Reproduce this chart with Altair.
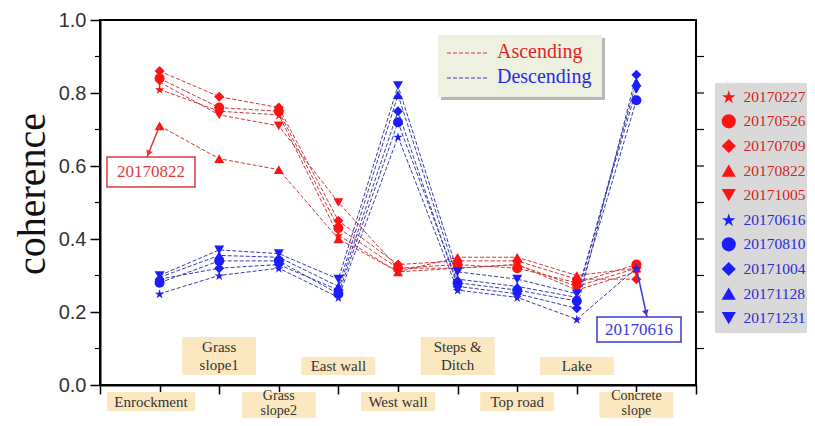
import altair as alt
import pandas as pd

# ---------------- data ----------------
categories = ["Enrockment", "Grass slope1", "Grass slope2", "East wall", "West wall",
              "Steps & Ditch", "Top road", "Lake", "Concrete slope"]
category_labels = ["Enrockment", "Grass\nslope1", "Grass\nslope2", "East wall", "West wall",
                   "Steps &\nDitch", "Top road", "Lake", "Concrete\nslope"]

asc_dates = ["20170227", "20170526", "20170709", "20170822", "20171005"]
desc_dates = ["20170616", "20170810", "20171004", "20171128", "20171231"]

asc_20170227 = [0.81, 0.75, 0.74, 0.41, 0.31, 0.32, 0.33, 0.27, 0.32]
asc_20170526 = [0.84, 0.76, 0.75, 0.43, 0.32, 0.33, 0.32, 0.28, 0.33]
asc_20170709 = [0.86, 0.79, 0.76, 0.45, 0.33, 0.34, 0.34, 0.29, 0.29]
asc_20170822 = [0.71, 0.62, 0.59, 0.40, 0.31, 0.35, 0.35, 0.30, 0.32]
asc_20171005 = [0.83, 0.74, 0.71, 0.50, 0.32, 0.32, 0.33, 0.26, 0.31]

desc_20170616 = [0.25, 0.30, 0.32, 0.24, 0.68, 0.26, 0.24, 0.18, 0.32]
desc_20170810 = [0.28, 0.34, 0.34, 0.25, 0.72, 0.28, 0.26, 0.23, 0.78]
desc_20171004 = [0.29, 0.32, 0.33, 0.26, 0.75, 0.27, 0.25, 0.21, 0.85]
desc_20171128 = [0.295, 0.355, 0.35, 0.27, 0.795, 0.29, 0.27, 0.24, 0.83]
desc_20171231 = [0.30, 0.37, 0.36, 0.29, 0.82, 0.31, 0.29, 0.25, 0.81]

y_ticks = [0.0, 0.2, 0.4, 0.6, 0.8, 1.0]
y_minor = [0.1, 0.3, 0.5, 0.7, 0.9]
y_right = [0.1, 0.2, 0.3, 0.4, 0.5, 0.6, 0.7, 0.8, 0.9]
y_title = "coherence"

series_values = {
    "20170227": asc_20170227, "20170526": asc_20170526, "20170709": asc_20170709,
    "20170822": asc_20170822, "20171005": asc_20171005,
    "20170616": desc_20170616, "20170810": desc_20170810, "20171004": desc_20171004,
    "20171128": desc_20171128, "20171231": desc_20171231,
}

rows = []
for s, vals in series_values.items():
    grp = "Ascending" if s in asc_dates else "Descending"
    for i, v in enumerate(vals):
        rows.append({"series": s, "group": grp, "x": i + 1, "cat": categories[i], "v": v})
df = pd.DataFrame(rows)

# ---------------- layout ----------------
W, H = 596, 365
X0, Y0 = 100, 20
def dx(px):
    return (px - X0) / (W / 10.0)
def dv(py):
    return (Y0 + H - py) / H

RED_PT, BLUE_PT = "#ff1212", "#1c1cff"
RED_LN, BLUE_LN = "#c83a3a", "#3a3aae"
RED_TX, BLUE_TX = "#d82222", "#2c2cd2"
BEIGE = "#fbe7c0"
SERIF = "Liberation Serif"

star = ("M0,-0.905L0.2245,-0.214L0.9511,-0.214L0.3633,0.213L0.5878,0.904L0,0.477"
        "L-0.5878,0.904L-0.3633,0.213L-0.9511,-0.214L-0.2245,-0.214Z")
shapes = [star, "circle", "diamond", "triangle-up", "triangle-down"] * 2
order = asc_dates + desc_dates
colors = [RED_PT] * 5 + [BLUE_PT] * 5

xscale = alt.Scale(domain=[0, 10], nice=False, zero=False)
yscale = alt.Scale(domain=[0, 1], nice=False, zero=False)

x_main = alt.X("x:Q", scale=xscale, title=None,
               axis=alt.Axis(values=list(range(11)), labels=False, tickSize=9, tickWidth=1.5,
                             tickColor="black", domainColor="black", domainWidth=2, grid=False))
y_main = alt.Y("v:Q", scale=yscale, title=None,
               axis=alt.Axis(values=y_ticks, format=".1f", tickSize=10, tickWidth=1.5,
                             tickColor="black", domainColor="black", domainWidth=2, grid=False,
                             labelFont="Liberation Sans", labelFontSize=20, labelColor="#333",
                             labelPadding=4))

def xq(f):
    return alt.X(f, scale=xscale, title=None)
def yq(f):
    return alt.Y(f, scale=yscale, title=None)

one = pd.DataFrame({"k": [0]})

# y-axis title (rotated text placed left of the axis)
title_layer = alt.Chart(pd.DataFrame({"t": [y_title]})).mark_text(
    font=SERIF, fontSize=40, angle=270, align="center", baseline="alphabetic",
    color="#111").encode(x=alt.value(-55), y=alt.value(174), text="t:N")

# category label boxes
lab_rows = []
for i, lab in enumerate(category_labels):
    two = "\n" in lab
    cx, hw = i + 1, 0.62
    if i == 0:
        cx, hw = dx(151), 0.74
    if i % 2 == 1:
        top = dv(337) if two else dv(357)
        bot = dv(375)
        ty = dv(347) if two else dv(366)
        kind = "up2" if two else "one"
    else:
        top = dv(392)
        bot = dv(430) if two else dv(411)
        ty = dv(396) if two else dv(401.5)
        kind = "low2" if two else "one"
    lab_rows.append({"lab": lab, "x1": cx - hw, "x2": cx + hw, "y1": top, "y2": bot,
                     "tx": cx, "ty": ty, "kind": kind})
labdf = pd.DataFrame(lab_rows)

lab_boxes = alt.Chart(labdf).mark_rect(fill=BEIGE).encode(
    x=xq("x1:Q"), x2="x2:Q", y=yq("y1:Q"), y2="y2:Q")

def lab_text(kind, fs, lh):
    return alt.Chart(labdf[labdf.kind == kind]).mark_text(
        font=SERIF, fontSize=fs, lineBreak="\n", lineHeight=lh,
        baseline="middle", align="center", color="#333").encode(
        x=xq("tx:Q"), y=yq("ty:Q"), text="lab:N")

# lines
lines_asc = alt.Chart(df[df.group == "Ascending"]).mark_line(
    color=RED_LN, strokeDash=[4, 2], strokeWidth=1).encode(
    x=x_main, y=y_main, detail="series:N", order="x:Q")
lines_desc = alt.Chart(df[df.group == "Descending"]).mark_line(
    color=BLUE_LN, strokeDash=[4, 2], strokeWidth=1).encode(
    x=xq("x:Q"), y=yq("v:Q"), detail="series:N", order="x:Q")

label_color_expr = ("indexof([" + ",".join("'%s'" % d for d in asc_dates) +
                    "], datum.value) >= 0 ? '%s' : '%s'" % (RED_TX, BLUE_TX))
leg = alt.Legend(title=None, orient="none", legendX=615, legendY=63, fillColor="#d9d9d9",
                 padding=6, rowPadding=7.6, symbolSize=200, symbolStrokeWidth=0,
                 labelFont=SERIF, labelFontSize=15.5, labelOffset=7,
                 labelColor={"expr": label_color_expr})
points = alt.Chart(df).mark_point(filled=True, opacity=1, size=100).encode(
    x=xq("x:Q"), y=yq("v:Q"),
    color=alt.Color("series:N", scale=alt.Scale(domain=order, range=colors), legend=leg),
    shape=alt.Shape("series:N", scale=alt.Scale(domain=order, range=shapes), legend=leg))

# extra ticks (minor left, right side)
minor_left = alt.Chart(pd.DataFrame({"t": y_minor})).mark_rule(color="black", strokeWidth=1.2).encode(
    y=yq("t:Q"), x=alt.value(-5), x2=alt.value(0))
right_ticks = alt.Chart(pd.DataFrame({"t": y_right})).mark_rule(color="black", strokeWidth=1.2).encode(
    y=yq("t:Q"), x=alt.value(W), x2=alt.value(W + 8))

# legend shadow
leg_shadow = alt.Chart(one).mark_rect(fill="#a8a8a8", opacity=0.8).encode(
    x=alt.value(618), x2=alt.value(720), y=alt.value(66), y2=alt.value(304))

# Ascending / Descending box
box_df = pd.DataFrame({"x1": [dx(438)], "x2": [dx(602)], "y1": [dv(35)], "y2": [dv(97)],
                       "sx1": [dx(441)], "sx2": [dx(605)], "sy1": [dv(38)], "sy2": [dv(100)]})
box_shadow = alt.Chart(box_df).mark_rect(fill="#b8b8b8").encode(
    x=xq("sx1:Q"), x2="sx2:Q", y=yq("sy1:Q"), y2="sy2:Q")
box = alt.Chart(box_df).mark_rect(fill="#eef0e0").encode(
    x=xq("x1:Q"), x2="x2:Q", y=yq("y1:Q"), y2="y2:Q")
key_df = pd.DataFrame({"name": ["Ascending", "Descending"],
                       "lx1": [dx(447), dx(447)], "lx2": [dx(488), dx(488)],
                       "ly": [dv(53), dv(78)], "tx": [dx(497), dx(497)], "ty": [dv(52), dv(77)]})
key_red = alt.Chart(key_df.iloc[[0]]).mark_rule(color=RED_LN, strokeDash=[4, 2], strokeWidth=1.2).encode(
    x=xq("lx1:Q"), x2="lx2:Q", y=yq("ly:Q"))
key_blue = alt.Chart(key_df.iloc[[1]]).mark_rule(color=BLUE_LN, strokeDash=[4, 2], strokeWidth=1.2).encode(
    x=xq("lx1:Q"), x2="lx2:Q", y=yq("ly:Q"))
key_txt_red = alt.Chart(key_df.iloc[[0]]).mark_text(font=SERIF, fontSize=20, align="left",
                                                    baseline="middle", color="#e02424").encode(
    x=xq("tx:Q"), y=yq("ty:Q"), text="name:N")
key_txt_blue = alt.Chart(key_df.iloc[[1]]).mark_text(font=SERIF, fontSize=20, align="left",
                                                     baseline="middle", color="#2a2ae0").encode(
    x=xq("tx:Q"), y=yq("ty:Q"), text="name:N")

# annotations
ann_df = pd.DataFrame({
    "name": ["20170822", "20170616"],
    "bx1": [dx(107), dx(597)], "bx2": [dx(195), dx(681)],
    "by1": [dv(157), dv(317)], "by2": [dv(187), dv(342)],
    "tx": [dx(151), dx(639)], "ty": [dv(172), dv(330)],
    "ax1": [1, 9], "ay1": [asc_20170822[0], desc_20170616[8]],
    "ax2": [dx(147), dx(647)], "ay2": [dv(157), dv(317)],
    "hx": [dx(148.5), dx(646)], "hy": [dv(153.5), dv(313)],
    "ang": [22, 346],
})

def annotation(d, col):
    b = alt.Chart(d).mark_rect(fill="white", stroke=col, strokeWidth=1.5).encode(
        x=xq("bx1:Q"), x2="bx2:Q", y=yq("by1:Q"), y2="by2:Q")
    t = alt.Chart(d).mark_text(font=SERIF, fontSize=17, align="center", baseline="middle",
                               color=col).encode(x=xq("tx:Q"), y=yq("ty:Q"), text="name:N")
    r = alt.Chart(d).mark_rule(color=col, strokeWidth=1.5).encode(
        x=xq("ax1:Q"), x2="ax2:Q", y=yq("ay1:Q"), y2="ay2:Q")
    h = alt.Chart(d).mark_point(shape="triangle-down", filled=True, opacity=1, size=45,
                                color=col).encode(x=xq("hx:Q"), y=yq("hy:Q"),
                                                  angle=alt.Angle("ang:Q", scale=None))
    return [b, t, r, h]

layers = ([lines_asc, lab_boxes, lab_text("one", 15, 18), lab_text("up2", 15, 18),
           lab_text("low2", 14, 14.5), lines_desc, points, minor_left, right_ticks,
           leg_shadow, box_shadow, box, key_red, key_blue, key_txt_red, key_txt_blue,
           title_layer]
          + annotation(ann_df.iloc[[0]], "#dd3a3a") + annotation(ann_df.iloc[[1]], "#3a3ad6"))

chart = alt.layer(*layers).properties(
    width=W, height=H,
    autosize=alt.AutoSizeParams(type="none"),
    padding={"left": 92, "top": 12, "right": 111, "bottom": 33},
    background="white",
).configure_view(stroke="black", strokeWidth=2)

chart.save("out.html", embed_options={"renderer": "svg", "actions": False})
